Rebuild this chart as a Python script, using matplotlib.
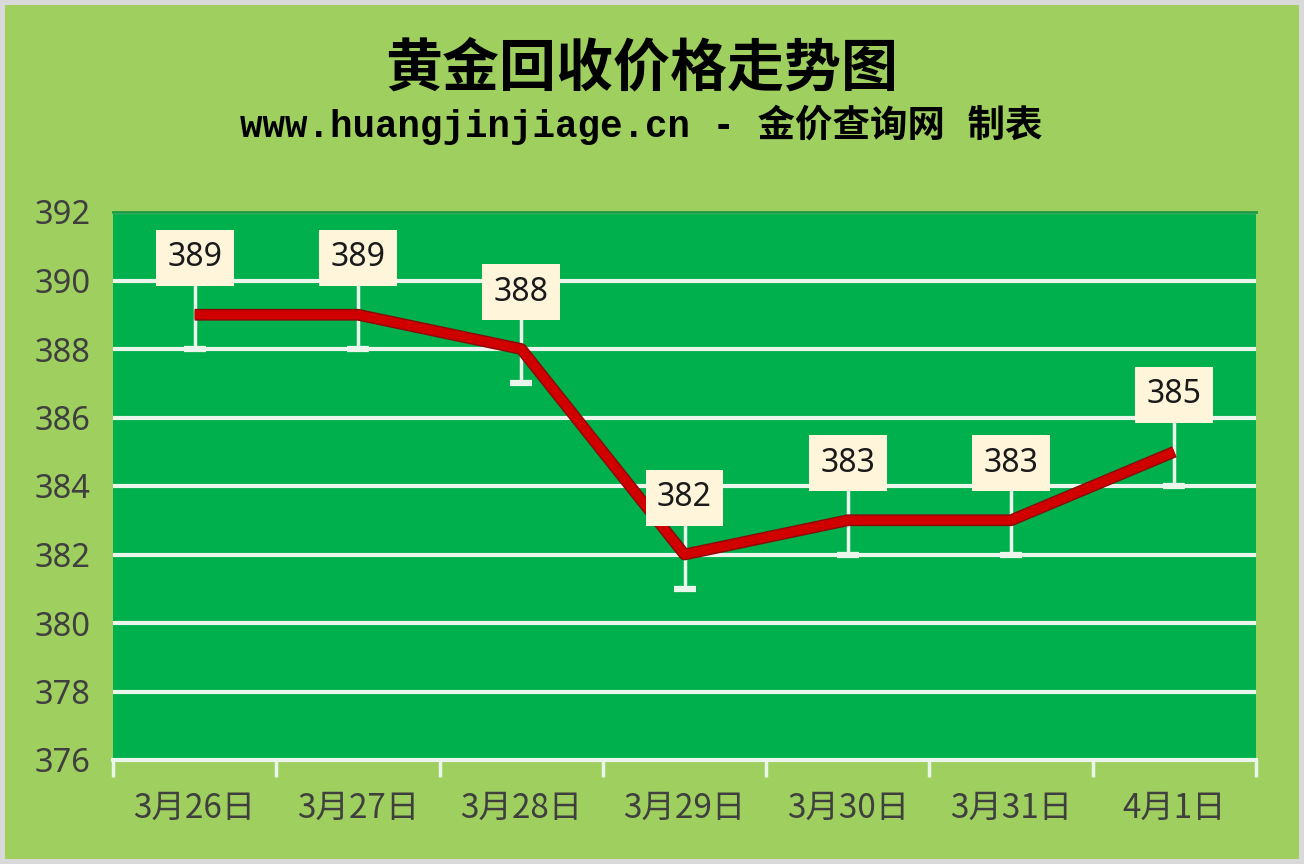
import matplotlib
matplotlib.use("Agg")
import matplotlib.pyplot as plt
import matplotlib.patheffects as pe
import numpy as np

plt.rcParams['font.family'] = ['Noto Sans CJK SC', 'DejaVu Sans']

dates = ["3月26日", "3月27日", "3月28日", "3月29日", "3月30日", "3月31日", "4月1日"]
prices = [389, 389, 388, 382, 383, 383, 385]
y_ticks = [376, 378, 380, 382, 384, 386, 388, 390, 392]
title = "黄金回收价格走势图"
subtitle_latin = "www.huangjinjiage.cn - "
subtitle_cjk = "金价查询网 制表"

bg = "#9ECF5F"
plot_bg = "#00B04C"
grid_c = "#EAF6EC"

fig = plt.figure(figsize=(13.04, 8.64), dpi=100, facecolor=bg)
fig.patch.set_edgecolor("#D9D9D9")
fig.patch.set_linewidth(6)

ax = fig.add_axes([113/1304, 1-760/864, (1256-113)/1304, (760-212)/864])
ax.set_facecolor(plot_bg)
x = np.arange(len(dates))

ax.set_ylim(376, 392)
ax.set_xlim(-0.5, len(dates)-0.5)
ax.set_yticks(y_ticks)
ax.set_yticklabels([str(v) for v in y_ticks], fontsize=23.5, color="#3F3F3F",
                   family=['Noto Sans', 'DejaVu Sans'])
for v in y_ticks[1:]:
    ax.axhline(v, color=grid_c, lw=3, zorder=1)

ax.set_xticks(x)
ax.set_xticklabels(dates, fontsize=24, color="#3F3F3F")
ax.set_xticks(np.arange(-0.5, len(dates), 1.0), minor=True)
ax.tick_params(axis='x', which='major', length=0, pad=22)
ax.tick_params(axis='x', which='minor', length=12, width=2.5, color=grid_c, direction='out')
ax.tick_params(axis='y', length=0, pad=16)

for s in ['left', 'right']:
    ax.spines[s].set_visible(False)
ax.spines['top'].set_color("#1E9A44")
ax.spines['top'].set_linewidth(2)
ax.spines['bottom'].set_color(grid_c)
ax.spines['bottom'].set_linewidth(3)

# error bars (white whiskers)
ax.errorbar(x, prices, yerr=1, fmt='none', ecolor=grid_c, elinewidth=2.5,
            capsize=8, capthick=4.5, zorder=2)

ax.plot(x, prices, color="#D00000", lw=6.5, zorder=3, solid_capstyle='butt',
        path_effects=[pe.Stroke(linewidth=8.5, foreground="#8A0A0A"), pe.Normal()])

for xi, p in zip(x, prices):
    ax.annotate(str(p), (xi, p), xytext=(0, 41), textcoords='offset points',
                ha='center', va='center', fontsize=23, color="#1A1A1A",
                family=['Noto Sans', 'DejaVu Sans'], zorder=5,
                bbox=dict(boxstyle='square,pad=0.36', fc="#FEF5DB", ec="none"))

fig.text(0.492, 1-68/864, title, ha='center', va='center', fontsize=41,
         fontweight='bold', color="#000000")
fig.text(0.492, 1-125/864, subtitle_latin + subtitle_cjk, ha='center', va='center',
         fontsize=27, fontweight='bold', color="#000000",
         family=['Liberation Mono', 'Noto Sans CJK SC'])

fig.savefig("out.png", dpi=100, facecolor=bg, edgecolor=fig.get_edgecolor())
